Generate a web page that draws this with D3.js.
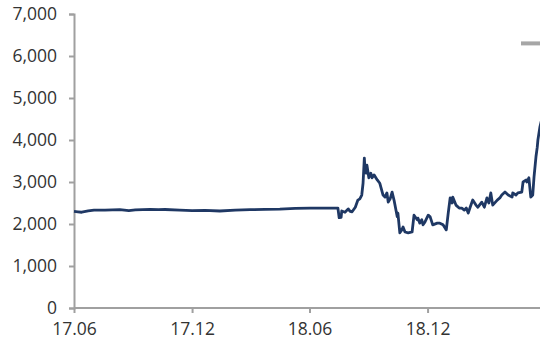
<!DOCTYPE html>
<html><head><meta charset="utf-8">
<script src="https://cdn.jsdelivr.net/npm/d3@7"></script>
<style>body{margin:0;background:#fff}svg{display:block}text{font-family:"Open Sans",sans-serif}</style>
</head><body><svg id="c" width="540" height="345"></svg>
<script>
const dates = ["2017-06-01","2017-06-07","2017-06-13","2017-06-23","2017-07-02","2017-07-19","2017-08-11","2017-08-25","2017-09-04","2017-09-27","2017-10-10","2017-10-20","2017-11-12","2017-12-01","2017-12-21","2018-01-13","2018-02-06","2018-03-01","2018-03-24","2018-04-16","2018-05-10","2018-06-02","2018-06-25","2018-07-15","2018-07-17","2018-07-20","2018-07-21","2018-07-26","2018-07-31","2018-08-03","2018-08-06","2018-08-11","2018-08-15","2018-08-18","2018-08-21","2018-08-23","2018-08-25","2018-08-26","2018-08-28","2018-08-29","2018-09-01","2018-09-04","2018-09-06","2018-09-09","2018-09-14","2018-09-18","2018-09-23","2018-09-26","2018-09-29","2018-10-01","2018-10-04","2018-10-07","2018-10-10","2018-10-15","2018-10-16","2018-10-19","2018-10-22","2018-10-24","2018-10-27","2018-11-01","2018-11-07","2018-11-10","2018-11-15","2018-11-16","2018-11-19","2018-11-22","2018-11-24","2018-11-27","2018-12-02","2018-12-05","2018-12-09","2018-12-16","2018-12-20","2018-12-25","2018-12-30","2019-01-02","2019-01-05","2019-01-08","2019-01-09","2019-01-14","2019-01-19","2019-01-23","2019-01-27","2019-01-30","2019-02-02","2019-02-05","2019-02-09","2019-02-14","2019-02-17","2019-02-23","2019-02-27","2019-03-03","2019-03-06","2019-03-09","2019-03-12","2019-03-19","2019-03-23","2019-03-26","2019-03-31","2019-04-05","2019-04-11","2019-04-12","2019-04-17","2019-04-20","2019-04-26","2019-04-28","2019-05-03","2019-05-04","2019-05-07","2019-05-10","2019-05-13","2019-05-15","2019-05-18","2019-05-20","2019-05-21","2019-05-24","2019-05-27"];
const values = [2300,2290,2280,2310,2330,2330,2340,2320,2335,2350,2340,2345,2330,2320,2325,2310,2330,2340,2350,2355,2370,2380,2380,2380,2150,2160,2310,2280,2360,2300,2290,2400,2570,2600,2690,2970,3570,3300,3210,3400,3100,3210,3100,3170,3050,2970,2690,2640,2740,2520,2600,2760,2570,2170,2260,1790,1860,1930,1810,1790,1810,2210,2100,2140,2020,2100,1980,2050,2210,2170,1980,2020,2020,1980,1860,2260,2620,2500,2640,2450,2380,2380,2330,2380,2260,2400,2570,2450,2400,2520,2400,2620,2500,2740,2450,2570,2620,2690,2760,2690,2640,2740,2690,2740,2760,3000,3050,3000,3100,2640,2690,3120,3600,3830,4000,4300,4500];
const yTicks = [0,1000,2000,3000,4000,5000,6000,7000];
const xTickDates = ["2017-06-01","2017-12-01","2018-06-01","2018-12-01"];
const xTickLabels = ["17.06","17.12","18.06","18.12"];
const markerValue = 6300;

const parse = d3.utcParse("%Y-%m-%d");
const data = dates.map((d,i)=>({date:parse(d), value:values[i]}));
const svg = d3.select("#c");
const x = d3.scaleUtc().domain([parse("2017-06-01"), parse("2019-06-01")]).range([74, 545]);
const y = d3.scaleLinear().domain([0,7000]).range([308,14]);

const axisColor = "#a0a0a0";
const yAxis = svg.append("g").attr("transform","translate(74,0)")
  .call(d3.axisLeft(y).tickValues(yTicks).tickSize(5).tickPadding(12).tickFormat(d3.format(",")));
const xAxis = svg.append("g").attr("transform","translate(0,308)")
  .call(d3.axisBottom(x).tickValues(xTickDates.map(parse)).tickSize(5).tickPadding(10).tickFormat((d,i)=>xTickLabels[i]));
[yAxis,xAxis].forEach(g=>{
  g.select(".domain").attr("stroke",axisColor).attr("stroke-width",2);
  g.selectAll(".tick line").attr("stroke",axisColor).attr("stroke-width",2);
  g.selectAll("text").attr("fill","#333").style("font-size","17.5px").style("font-family","'Open Sans',sans-serif");
});
xAxis.select(".domain").attr("d","M74,0H540");

svg.append("line").attr("x1",521).attr("x2",545).attr("y1",y(markerValue)).attr("y2",y(markerValue))
  .attr("stroke","#a6a6a6").attr("stroke-width",4);

svg.append("path").datum(data)
  .attr("fill","none").attr("stroke","#1f3864").attr("stroke-width",2.8).attr("stroke-linejoin","round")
  .attr("d", d3.line().x(d=>x(d.date)).y(d=>y(d.value)));
</script></body></html>
